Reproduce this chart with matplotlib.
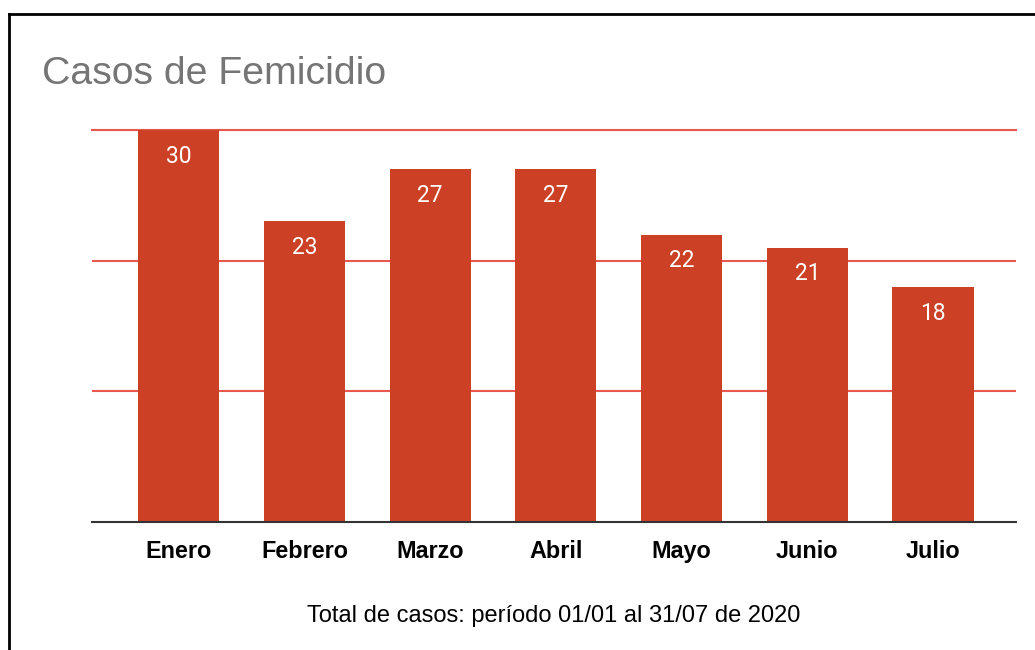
import matplotlib.pyplot as plt
from matplotlib.lines import Line2D

meses = ['Enero', 'Febrero', 'Marzo', 'Abril', 'Mayo', 'Junio', 'Julio']
casos = [30, 23, 27, 27, 22, 21, 18]

bar_color = '#CC4125'
grid_color = '#E8584D'

fig = plt.figure(figsize=(10.35, 6.5), dpi=100)
W, H = 1035, 650

# axes box in pixels: x 92..1016, y 130..522
ax = fig.add_axes([92 / W, 1 - 522 / H, (1016 - 92) / W, (522 - 130) / H])

x = list(range(len(meses)))
ax.bar(x, casos, width=0.645, color=bar_color, zorder=3)

for xi, v in zip(x, casos):
    ax.annotate(str(v), (xi, v), xytext=(0, -19), textcoords='offset points',
                ha='center', va='center', color='white', fontsize=16.4,
                family='Roboto', zorder=4)

ax.set_xlim(-0.69, 6.66)
ax.set_ylim(0, 30)
ax.set_yticks([10, 20, 30])
ax.set_yticklabels([])
ax.tick_params(axis='y', length=0)
ax.yaxis.grid(True, color=grid_color, linewidth=1.5, zorder=1)
ax.set_axisbelow(True)

ax.set_xticks(x)
ax.set_xticklabels(meses, fontsize=16.8, fontweight='bold', family='Liberation Sans')
ax.tick_params(axis='x', length=0, pad=13)

for s in ['top', 'right', 'left', 'bottom']:
    ax.spines[s].set_visible(False)
ax.axhline(0, color='#333333', linewidth=1.5, zorder=5, clip_on=False)
ax.axhline(30, color=grid_color, linewidth=1.5, zorder=1, clip_on=False)

ax.set_xlabel('Total de casos: período 01/01 al 31/07 de 2020', fontsize=17,
              family='Liberation Sans', labelpad=30)

fig.text(42 / W, 1 - 84 / H, 'Casos de Femicidio', fontsize=28.3,
         family='Liberation Sans', color='#757575', ha='left', va='baseline')

# outer frame (top and left)
fig.add_artist(Line2D([9 / W, 1], [1 - 14 / H, 1 - 14 / H], color='black', linewidth=2))
fig.add_artist(Line2D([9 / W, 9 / W], [0, 1 - 14 / H], color='black', linewidth=2))

fig.savefig('out.png', dpi=100)
